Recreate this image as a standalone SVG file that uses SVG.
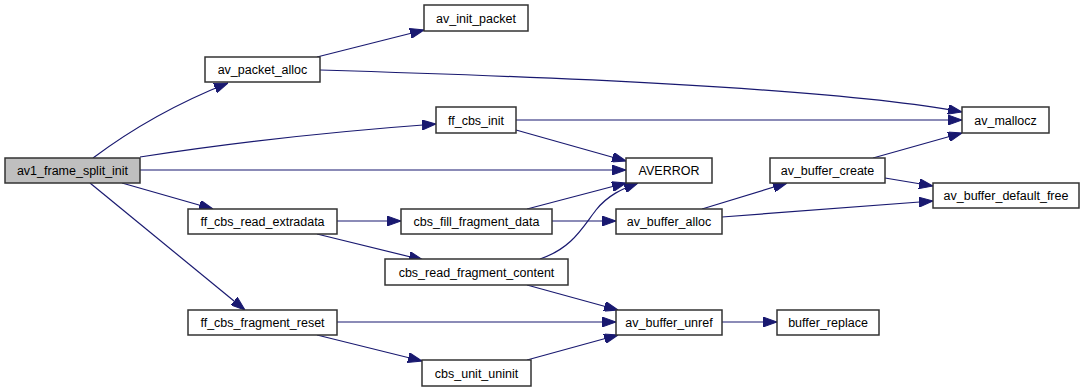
<svg xmlns="http://www.w3.org/2000/svg" width="1084" height="392" viewBox="0 0 1084 392">
  <style>
    .node rect { fill: #ffffff; stroke: #333333; stroke-width: 1.5; }
    .node.root rect { fill: #bfbfbf; }
    .node text { font-family: "Liberation Sans", Arial, sans-serif; font-size: 12.5px; fill: #000000; text-anchor: middle; }
    .edges path { fill: none; stroke: #191970; stroke-width: 1.2; marker-end: url(#arrow); }
  </style>
  <defs>
    <marker id="arrow" viewBox="0 0 14 10" refX="14" refY="5" markerWidth="14" markerHeight="10" markerUnits="userSpaceOnUse" orient="auto">
      <path d="M0,0 L14,5 L0,10 z" fill="#191970" stroke="#191970" stroke-width="1"/>
    </marker>
  </defs>
  <rect x="0" y="0" width="1084" height="392" fill="#ffffff"/>

  <g class="edges">
    <!-- av1_frame_split_init -->
    <path d="M93,158 C125,134 170,106 228,83"/>
    <path d="M140,157 C230,143 340,131 436,124"/>
    <path d="M140,170 L626,170"/>
    <path d="M122,183 L213,209"/>
    <path d="M90,183 L245,310"/>
    <!-- av_packet_alloc -->
    <path d="M317,57 L424,30"/>
    <path d="M320,70 C520,76 830,87 962,112"/>
    <!-- ff_cbs_init -->
    <path d="M516,120 L962,120"/>
    <path d="M516,130 L626,161"/>
    <!-- cbs_fill_fragment_data / cbs_read_fragment_content to AVERROR -->
    <path d="M527,209 L626,183"/>
    <path d="M540,259 C572,248 582,228 596,210 C608,195 622,189 638,183"/>
    <!-- ff_cbs_read_extradata -->
    <path d="M337,221 L401,221"/>
    <path d="M317,234 L423,260"/>
    <!-- cbs_fill_fragment_data -->
    <path d="M552,221 L616,221"/>
    <!-- av_buffer_alloc -->
    <path d="M702,209 L787,183"/>
    <path d="M722,217 L933,201"/>
    <!-- av_buffer_create -->
    <path d="M873,158 L962,133"/>
    <path d="M885,178 L933,186"/>
    <!-- into av_buffer_unref -->
    <path d="M527,285 L618,310"/>
    <path d="M337,322 L616,322"/>
    <path d="M527,360 L618,335"/>
    <!-- ff_cbs_fragment_reset -->
    <path d="M317,335 L422,361"/>
    <!-- av_buffer_unref -->
    <path d="M722,322 L777,322"/>
  </g>

  <g id="node-av1_frame_split_init" class="node root">
    <rect x="5" y="158" width="135" height="25"/>
    <text x="72.5" y="175">av1_frame_split_init</text>
  </g>
  <g id="node-av_packet_alloc" class="node">
    <rect x="205" y="57" width="115" height="25"/>
    <text x="262.5" y="74">av_packet_alloc</text>
  </g>
  <g id="node-av_init_packet" class="node">
    <rect x="424" y="5" width="104" height="26"/>
    <text x="476" y="22.5">av_init_packet</text>
  </g>
  <g id="node-ff_cbs_init" class="node">
    <rect x="436" y="107" width="80" height="26"/>
    <text x="476" y="124.5">ff_cbs_init</text>
  </g>
  <g id="node-AVERROR" class="node">
    <rect x="626" y="158" width="86" height="25"/>
    <text x="669" y="175">AVERROR</text>
  </g>
  <g id="node-av_mallocz" class="node">
    <rect x="962" y="107" width="87" height="26"/>
    <text x="1005.5" y="124.5">av_mallocz</text>
  </g>
  <g id="node-av_buffer_create" class="node">
    <rect x="770" y="158" width="115" height="25"/>
    <text x="827.5" y="175">av_buffer_create</text>
  </g>
  <g id="node-av_buffer_default_free" class="node">
    <rect x="933" y="183" width="146" height="25"/>
    <text x="1006" y="200">av_buffer_default_free</text>
  </g>
  <g id="node-ff_cbs_read_extradata" class="node">
    <rect x="188" y="209" width="149" height="25"/>
    <text x="262.5" y="226">ff_cbs_read_extradata</text>
  </g>
  <g id="node-cbs_fill_fragment_data" class="node">
    <rect x="401" y="209" width="151" height="25"/>
    <text x="476.5" y="226">cbs_fill_fragment_data</text>
  </g>
  <g id="node-av_buffer_alloc" class="node">
    <rect x="616" y="209" width="106" height="25"/>
    <text x="669" y="226">av_buffer_alloc</text>
  </g>
  <g id="node-cbs_read_fragment_content" class="node">
    <rect x="385" y="259" width="183" height="26"/>
    <text x="476.5" y="276.5">cbs_read_fragment_content</text>
  </g>
  <g id="node-ff_cbs_fragment_reset" class="node">
    <rect x="188" y="310" width="149" height="25"/>
    <text x="262.5" y="327">ff_cbs_fragment_reset</text>
  </g>
  <g id="node-av_buffer_unref" class="node">
    <rect x="616" y="310" width="106" height="25"/>
    <text x="669" y="327">av_buffer_unref</text>
  </g>
  <g id="node-buffer_replace" class="node">
    <rect x="777" y="310" width="102" height="25"/>
    <text x="828" y="327">buffer_replace</text>
  </g>
  <g id="node-cbs_unit_uninit" class="node">
    <rect x="422" y="360" width="109" height="26"/>
    <text x="476.5" y="377.5">cbs_unit_uninit</text>
  </g>
</svg>
